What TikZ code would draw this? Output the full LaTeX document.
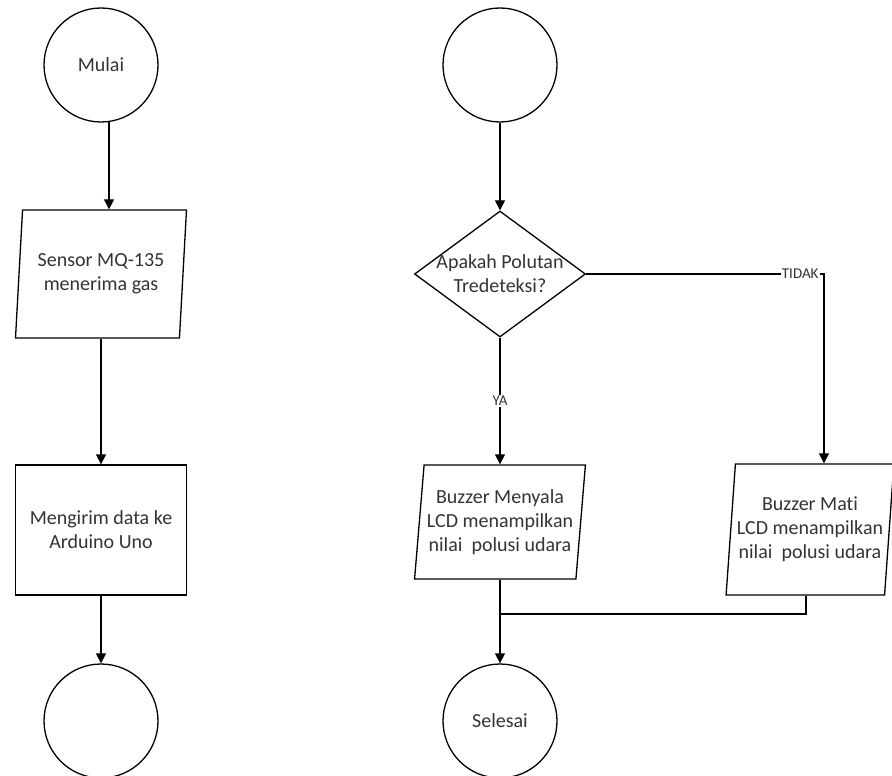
\documentclass[tikz,border=0pt]{standalone}
\usepackage{fontspec}
\setmainfont{Carlito}[Ligatures=NoCommon]
\usetikzlibrary{shapes.geometric,positioning,arrows.meta,calc}

\begin{document}
\begin{tikzpicture}[x=1pt,y=-1pt,on grid,line width=1.3pt,>={Triangle[length=10pt,width=10pt]},
	every node/.style={font=\fontsize{20}{24}\selectfont,text=black!80},
	terminal/.style={circle,draw,minimum size=114pt,inner sep=0pt},
	io/.style={trapezium,draw,trapezium left angle=82,trapezium right angle=98,trapezium stretches=true,inner sep=0pt,minimum width=171pt,align=center},
	proses/.style={rectangle,draw,minimum width=171pt,minimum height=130pt,align=center,inner sep=0pt},
	keputusan/.style={diamond,draw,minimum width=171pt,minimum height=126pt,inner sep=0pt},
	jawab/.style={font=\fontsize{15}{18}\selectfont,fill=white,inner sep=1pt}]
	\useasboundingbox (0,0) rectangle (892,776);

	% kolom kiri
	\node[terminal](mulai) at (101,65){Mulai};
	\node[io,minimum height=128pt](sensor)[below=209pt of mulai]{Sensor MQ-135\\menerima gas};
	\node[proses](kirim)[below=256pt of sensor]{Mengirim data ke\\Arduino Uno};
	\node[terminal](ujung)[below=191pt of kirim]{};

	% kolom kanan
	\node[terminal](awal) at (500,65){};
	\node[keputusan,label={[align=center]center:Apakah Polutan\\Tredeteksi?}](cek)[below=209pt of awal]{};
	\node[io,minimum height=114pt](nyala)[below=248pt of cek]{Buzzer Menyala\\LCD menampilkan\\nilai~ polusi udara};
	\node[terminal](selesai)[below=199pt of nyala]{Selesai};
	\node[io,minimum width=168pt,minimum height=131pt](mati)[below right=7.5pt and 310pt of nyala]{Buzzer Mati\\LCD menampilkan\\nilai~ polusi udara};

	\path[->]
	(mulai.-82) edge (mulai.-82 |- sensor.north)
	(kirim.north |- sensor.south) edge (kirim.north)
	(kirim) edge (ujung)
	(awal) edge (cek)
	(selesai.north |- nyala.south) edge (selesai.north);

	\draw[->] (cek.south) -- node[jawab]{YA} (cek.south |- nyala.north);
	\draw[->] (cek.east) -| node[jawab,pos=0.45]{TIDAK} ($(mati.center |- mati.north)+(14,0)$);

	\coordinate (gabung) at ($(nyala.south)!0.41!(selesai.north)$);
	\draw ($(mati.center |- mati.south)+(-4,0)$) |- (gabung);
\end{tikzpicture}
\end{document}
